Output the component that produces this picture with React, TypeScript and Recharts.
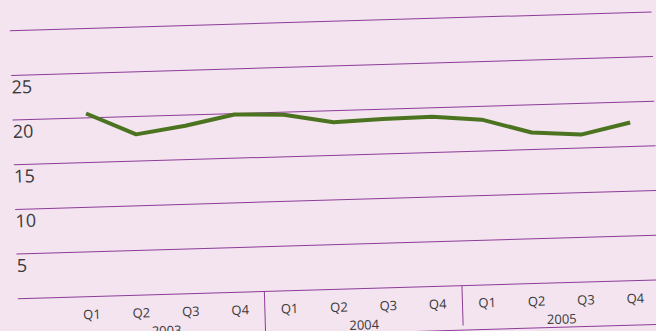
import { LineChart, Line, XAxis, YAxis, CartesianGrid } from "recharts";

// Quarterly series, 2003–2005
const quarters = ["Q1", "Q2", "Q3", "Q4"];
const years = ["2003", "2004", "2005"];
const values = [20.5, 18.0, 18.8, 19.9, 19.7, 18.7, 18.9, 19.0, 18.5, 16.9, 16.5, 17.7];
const yTicks = [0, 5, 10, 15, 20, 25, 30];
const unitLabel = "(%)";

const data = values.map((v, i) => ({
  key: `${years[Math.floor(i / 4)]}-${quarters[i % 4]}`,
  q: quarters[i % 4],
  year: years[Math.floor(i / 4)],
  value: v,
}));

const BG = "#f3e4ef";
const GRID = "#8e3c98";
const LINE = "#4c7420";
const TEXT = "#3a3a3a";
const FONT = "'Open Sans', sans-serif";

const W = 680;
const H = 370;
const M = { top: 41.5, right: 14, bottom: 6, left: 23 };
const Y_W = 1;
const PAD_LEFT = 49;
const BAND = (W - M.left - Y_W - M.right - PAD_LEFT) / values.length;
const PLOT_LEFT = M.left + Y_W;

function YTick({ y, payload }: any) {
  if (payload.value === 0 || payload.value === 30) return null;
  return (
    <text x={PLOT_LEFT} y={y + 18} textAnchor="start" fontSize={18} fill={TEXT} fontFamily={FONT}>
      {payload.value}
    </text>
  );
}

function QuarterTick({ x, y, index }: any) {
  const d = data[index];
  if (!d) return null;
  return (
    <g>
      <text x={x} y={y + 22.5} textAnchor="middle" fontSize={13} fill={TEXT} fontFamily={FONT}>
        {d.q}
      </text>
      {index % 4 === 1 && (
        <text x={x + BAND / 2} y={y + 41} textAnchor="middle" fontSize={13} fill={TEXT} fontFamily={FONT}>
          {d.year}
        </text>
      )}
      {index % 4 === 0 && index > 0 && (
        <line x1={x - BAND / 2} x2={x - BAND / 2} y1={y} y2={y + 40} stroke={GRID} strokeWidth={1} />
      )}
    </g>
  );
}

export default function App() {
  return (
    <div
      style={{
        position: "absolute",
        left: 0,
        top: 0,
        width: 656,
        height: 331,
        overflow: "hidden",
        background: BG,
      }}
    >
      <div
        style={{
          position: "absolute",
          left: -10,
          top: -20,
          width: W,
          height: H,
          transform: "rotate(-1.69deg)",
          transformOrigin: "338px 185.5px",
        }}
      >
        <LineChart width={W} height={H} data={data} margin={M}>
          <CartesianGrid horizontal vertical={false} stroke={GRID} strokeWidth={1} />
          <XAxis
            dataKey="key"
            type="category"
            padding={{ left: PAD_LEFT + BAND / 2, right: BAND / 2 }}
            axisLine={false}
            tickLine={false}
            tickSize={0}
            tickMargin={0}
            height={44.5}
            interval={0}
            tick={<QuarterTick />}
          />
          <XAxis
            xAxisId="frame"
            dataKey="key"
            height={10}
            tick={false}
            tickLine={false}
            axisLine={{ stroke: GRID, strokeWidth: 1 }}
          />
          <YAxis
            type="number"
            domain={[0, 30]}
            ticks={yTicks}
            width={Y_W}
            axisLine={false}
            tickLine={false}
            tickSize={0}
            tickMargin={0}
            interval={0}
            tick={<YTick />}
            label={{
              content: ({ viewBox }: any) => (
                <text x={PLOT_LEFT + 3} y={(viewBox?.y ?? M.top) - 34} fontSize={16} fill={GRID} fontFamily={FONT}>
                  {unitLabel}
                </text>
              ),
            }}
          />
          <Line
            dataKey="value"
            stroke={LINE}
            strokeWidth={4}
            dot={false}
            activeDot={false}
            strokeLinejoin="round"
            isAnimationActive={false}
          />
        </LineChart>
      </div>
    </div>
  );
}
